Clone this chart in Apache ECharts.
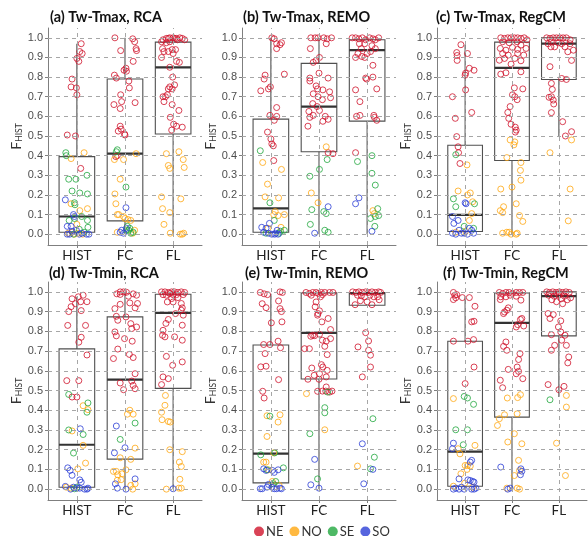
<!DOCTYPE html>
<html>
<head>
<meta charset="utf-8">
<script src="https://cdn.jsdelivr.net/npm/echarts@6/dist/echarts.min.js"></script>
<style>
html, body { margin: 0; padding: 0; background: #fff; }
#chart { width: 588px; height: 536px; }
</style>
</head>
<body>
<div id="chart"></div>
<script>
const categories = ['HIST', 'FC', 'FL'];
const regions = ['NE', 'NO', 'SE', 'SO'];
const regionColors = ['#d0142c', '#ffa812', '#22a83e', '#2c3fd6'];
const titles = ['(a) Tw-Tmax, RCA', '(b) Tw-Tmax, REMO', '(c) Tw-Tmax, RegCM',
                '(d) Tw-Tmin, RCA', '(e) Tw-Tmin, REMO', '(f) Tw-Tmin, RegCM'];
const yTicks = [0, 0.1, 0.2, 0.3, 0.4, 0.5, 0.6, 0.7, 0.8, 0.9, 1.0];

// box stats: [x, lower whisker, Q1, median, Q3, upper whisker]
const boxA = [[1, 0, 0.01, 0.09, 0.395, 0.97], [2, 0, 0.068, 0.41, 0.79, 1.0], [3, 0, 0.51, 0.85, 0.978, 1.0]];
const boxB = [[1, 0, 0.01, 0.132, 0.586, 1.0], [2, 0, 0.42, 0.65, 0.87, 1.0], [3, 0, 0.576, 0.937, 0.99, 1.0]];
const boxC = [[1, 0, 0.014, 0.098, 0.453, 0.965], [2, 0, 0.375, 0.847, 0.978, 1.0], [3, 0.5, 0.788, 0.97, 1.0, 1.0]];
const boxD = [[1, 0, 0.01, 0.225, 0.711, 0.975], [2, 0, 0.152, 0.555, 0.873, 1.0], [3, 0, 0.511, 0.893, 0.988, 1.0]];
const boxE = [[1, 0, 0.032, 0.18, 0.731, 0.99], [2, 0, 0.558, 0.792, 0.995, 1.0], [3, 0.932, 0.932, 0.993, 0.997, 1.0]];
const boxF = [[1, 0, 0.015, 0.19, 0.75, 0.975], [2, 0, 0.365, 0.843, 0.995, 1.0], [3, 0.467, 0.777, 0.978, 1.0, 1.0]];

// jittered points [x, FHIST]
const a_NE = [[1.09,0.97],[1.06,0.93],[1.11,0.92],[1.0,0.895],[1.04,0.88],[0.9,0.79],[0.88,0.75],[0.99,0.745],[1.0,0.71],[0.8,0.505],[0.97,0.5],[1.08,0.335],
  [1.79,1.0],[2.16,0.995],[2.2,0.98],[2.23,0.945],[2.24,0.935],[1.91,0.935],[2.17,0.88],[2.02,0.845],[1.98,0.835],[2.03,0.83],[1.78,0.81],[1.82,0.795],[2.08,0.78],[2.09,0.745],[1.91,0.71],[1.93,0.675],[1.77,0.66],[2.21,0.67],[1.9,0.64],[1.9,0.55],[1.92,0.535],[1.86,0.525],[1.99,0.51],[2.0,0.505],[1.84,0.4],[1.81,0.395],
  [2.76,0.98],[2.79,0.99],[2.86,0.997],[2.9,0.997],[2.93,1.0],[3.0,1.0],[3.03,0.997],[3.07,0.997],[3.14,1.0],[3.19,0.997],[3.24,0.99],[2.86,0.975],[2.93,0.98],[3.09,0.99],[2.78,0.945],[2.81,0.93],[2.9,0.93],[3.0,0.92],[3.05,0.94],[2.98,0.94],[2.76,0.9],[3.07,0.88],[3.13,0.875],[2.93,0.85],[2.99,0.8],[2.93,0.75],[3.03,0.76],[2.98,0.74],[2.9,0.74],[2.79,0.7],[2.84,0.7],[2.88,0.71],[2.81,0.675],[2.98,0.66],[3.12,0.63],[2.94,0.595],[3.01,0.56],[3.07,0.55],[3.19,0.545],[2.97,0.53]];
const a_NO = [[0.88,0.385],[1.15,0.415],[0.88,0.155],[1.06,0.12],[1.22,0.13],[0.82,0.005],[0.95,0.0],[1.02,0.005],[1.12,0.0],[0.9,0.01],[1.0,0.05],
  [1.78,0.38],[1.97,0.38],[2.23,0.41],[1.9,0.28],[1.79,0.205],[1.81,0.155],[1.84,0.1],[1.87,0.1],[1.97,0.09],[2.0,0.08],[2.06,0.075],[2.12,0.07],[1.84,0.01],[2.16,0.005],[2.2,0.02],
  [2.86,0.41],[3.12,0.42],[2.9,0.35],[2.93,0.335],[3.21,0.38],[3.23,0.34],[2.76,0.19],[3.16,0.18],[2.78,0.13],[2.93,0.11],[2.81,0.05],[2.94,0.005],[3.15,0.0],[3.19,0.0],[3.22,0.005]];
const a_SE = [[0.77,0.415],[0.78,0.4],[0.83,0.28],[0.98,0.28],[1.21,0.3],[0.9,0.22],[1.06,0.21],[1.22,0.205],[0.95,0.16],[0.96,0.15],[0.84,0.07],[0.95,0.08],[1.1,0.09],[1.22,0.07],[1.23,0.035],[1.15,0.01],[1.05,0.025],[0.93,0.0],
  [1.84,0.43],[1.82,0.42],[2.02,0.24],[2.03,0.02],[2.08,0.02],[2.12,0.005],[2.17,0.01],[2.1,0.03],[2.05,0.04]];
const a_SO = [[0.76,0.175],[0.8,0.04],[0.88,0.04],[0.95,0.09],[0.85,0.0],[0.99,0.02],[1.1,0.005],[1.2,0.0],[0.8,0.0],[1.05,0.0],[1.25,0.0],[0.9,0.015],[0.93,0.1],
  [2.02,0.135],[1.9,0.01],[1.93,0.02],[1.97,0.005],[2.03,0.03]];

const b_NE = [[1.02,1.0],[1.07,0.995],[1.12,0.97],[1.19,0.965],[1.12,0.945],[1.22,0.975],[0.88,0.81],[0.86,0.79],[0.79,0.73],[0.95,0.74],[0.99,0.75],[1.28,0.815],[1.12,0.645],[0.98,0.605],[1.12,0.6],[1.07,0.58],[0.93,0.52],[1.0,0.485],[1.02,0.46],[1.05,0.45],[1.06,0.375],
  [1.83,1.0],[1.92,1.0],[1.98,1.0],[2.1,1.0],[2.17,0.995],[2.26,1.0],[2.15,0.97],[1.82,0.945],[2.01,0.9],[1.94,0.885],[1.88,0.875],[2.0,0.82],[1.81,0.795],[1.81,0.78],[2.19,0.795],[1.94,0.755],[1.97,0.74],[2.08,0.735],[2.22,0.725],[1.88,0.715],[1.98,0.7],[2.24,0.695],[2.07,0.685],[1.87,0.665],[1.96,0.65],[2.01,0.63],[1.79,0.625],[1.88,0.605],[1.81,0.595],[2.13,0.6],[2.19,0.585],[2.08,0.575],[1.77,0.55],[2.19,0.415],[2.29,0.41],
  [2.69,1.0],[2.76,1.0],[2.83,0.995],[2.9,1.0],[2.97,0.99],[3.05,1.0],[3.12,0.995],[3.17,0.99],[3.24,1.0],[2.84,0.97],[2.95,0.97],[2.88,0.945],[3.1,0.96],[3.17,0.945],[2.81,0.92],[2.89,0.905],[3.0,0.92],[3.07,0.93],[2.76,0.9],[2.95,0.9],[3.12,0.86],[2.97,0.795],[2.99,0.79],[3.12,0.8],[2.76,0.735],[3.2,0.74],[2.85,0.675],[2.78,0.6],[2.85,0.605],[3.14,0.605],[3.15,0.595],[3.2,0.58],[2.76,0.415]];
const b_NO = [[0.83,0.365],[0.93,0.255],[1.22,0.33],[0.88,0.19],[1.16,0.185],[1.06,0.1],[1.15,0.095],[1.09,0.115],[1.28,0.1],[0.94,0.03],[1.21,0.035],
  [2.15,0.445],[1.84,0.21],[1.98,0.16],
  [3.12,0.12],[3.15,0.105]];
const b_SE = [[0.78,0.425],[0.98,0.16],[1.07,0.07],[0.9,0.005],[1.2,0.015],[1.17,0.005],[1.28,0.02],
  [1.81,0.295],[2.01,0.33],[2.17,0.38],[1.85,0.125],[2.1,0.115],[2.15,0.105],[1.82,0.05],[2.12,0.02],[2.19,0.01],
  [2.8,0.37],[3.1,0.4],[3.1,0.31],[3.17,0.25],[3.07,0.08],[3.17,0.09],[3.22,0.13],[3.16,0.04],[3.24,0.095]];
const b_SO = [[0.81,0.035],[0.97,0.055],[0.95,0.005],[1.02,0.0],[1.08,0.0],[1.13,0.02],[1.15,0.0],[1.1,0.005],[0.9,0.03],[0.85,0.01],
  [2.19,0.14],[1.91,0.005],
  [2.83,0.185],[2.76,0.155],[3.1,0.015]];

const c_NE = [[0.91,0.965],[0.82,0.925],[0.83,0.91],[0.83,0.885],[1.05,0.92],[1.01,0.82],[1.0,0.81],[1.09,0.845],[1.19,0.835],[1.01,0.735],[0.73,0.7],[1.14,0.62],[0.79,0.59],[0.82,0.497],[0.85,0.445],[0.86,0.415],[0.89,0.36],
  [1.76,1.0],[1.84,0.997],[1.91,1.0],[1.98,1.0],[2.05,1.0],[2.12,1.0],[2.19,0.997],[2.26,1.0],[2.32,0.99],[1.8,0.98],[1.94,0.975],[2.11,0.98],[2.19,0.963],[1.75,0.946],[1.87,0.937],[2.01,0.951],[2.12,0.941],[2.3,0.946],[1.8,0.92],[1.92,0.912],[2.12,0.92],[2.25,0.912],[1.73,0.886],[1.84,0.895],[2.06,0.895],[2.19,0.883],[1.98,0.866],[2.19,0.827],[1.87,0.822],[1.76,0.815],
  [2.05,0.745],[2.23,0.74],[2.01,0.71],[2.06,0.7],[2.11,0.685],[1.96,0.65],[1.91,0.62],[1.93,0.59],[1.98,0.56],[2.07,0.545],[2.09,0.53],[2.07,0.52],
  [2.74,1.0],[2.81,0.997],[2.88,1.0],[2.95,1.0],[3.02,1.0],[3.09,1.0],[3.16,1.0],[3.24,0.99],[2.77,0.97],[2.84,0.98],[2.99,0.975],[3.06,0.97],[3.24,0.97],[2.83,0.954],[2.91,0.954],[3.13,0.954],[3.31,0.937],[3.19,0.929],[3.27,0.885],[2.81,0.853],[3.06,0.793],[3.16,0.788],[2.84,0.768],[2.86,0.737],[2.79,0.697],[2.84,0.7],[2.88,0.683],[2.89,0.663],[2.84,0.619],[3.08,0.573],[3.14,0.5],[3.27,0.522]];
const c_NO = [[1.04,0.353],[0.85,0.22],[1.05,0.2],[1.11,0.21],[1.16,0.165],[1.14,0.105],[1.09,0.07],[0.8,0.01],[1.01,0.015],
  [1.96,0.48],[2.06,0.47],[2.04,0.455],[1.89,0.39],[2.19,0.365],[2.18,0.325],[2.19,0.275],[1.76,0.23],[2.0,0.24],[1.82,0.14],[1.75,0.12],[1.8,0.11],[2.09,0.155],[2.16,0.095],[2.23,0.065],[1.8,0.005],[1.89,0.01],[1.94,0.01],[1.98,0.0],[2.09,0.0],[2.11,0.005],
  [2.81,0.415],[3.27,0.48],[3.24,0.23],[3.2,0.068]];
const c_SE = [[0.8,0.405],[0.75,0.18],[0.8,0.14],[1.2,0.155],[0.98,0.04],[1.18,0.03]];
const c_SO = [[0.73,0.09],[0.85,0.07],[0.76,0.055],[1.0,0.16],[1.02,0.155],[0.87,0.02],[0.73,0.005],[0.8,0.0],[0.92,0.005],[1.09,0.03],[1.14,0.02],[1.18,0.005],[1.05,0.0],[0.98,0.005]];

const d_NE = [[1.13,0.983],[1.03,0.975],[0.9,0.965],[0.97,0.94],[1.08,0.95],[1.21,0.95],[0.88,0.925],[0.83,0.9],[1.09,0.905],[0.81,0.83],[1.18,0.83],[1.09,0.77],[1.04,0.745],[1.21,0.68],[0.79,0.55],[1.04,0.55],[0.9,0.467],[1.0,0.467],
  [1.83,0.99],[1.9,1.0],[1.97,1.0],[2.03,0.998],[1.9,0.987],[2.07,0.978],[2.17,0.99],[2.24,0.983],[1.79,0.915],[1.9,0.937],[2.1,0.944],[2.21,0.919],[2.26,0.941],[1.82,0.876],[1.85,0.856],[2.02,0.873],[2.12,0.839],[2.24,0.822],[2.14,0.814],[1.79,0.797],[1.82,0.777],[1.99,0.763],[2.15,0.75],[1.85,0.71],[2.09,0.683],[2.17,0.667],[1.76,0.662],[2.21,0.585],[2.14,0.548],[2.17,0.526],[2.21,0.509],[1.97,0.504],[1.9,0.538],
  [2.76,1.0],[2.83,1.0],[2.9,0.997],[2.97,1.0],[3.03,1.0],[3.1,0.997],[3.17,1.0],[3.24,0.997],[2.79,0.986],[2.86,0.983],[2.93,0.992],[3.0,0.986],[3.07,0.986],[3.21,0.986],[2.97,0.966],[3.1,0.971],[2.88,0.949],[3.0,0.949],[3.17,0.941],[3.19,0.919],[3.17,0.907],[3.05,0.89],[3.21,0.882],[2.9,0.86],[2.85,0.84],[3.19,0.831],[2.79,0.805],[2.78,0.78],[2.83,0.772],[3.03,0.772],[3.19,0.755],[2.86,0.673],[2.99,0.628],[3.19,0.645],[2.79,0.569],[2.9,0.56],[2.76,0.53]];
const d_NO = [[1.13,0.423],[1.23,0.403],[0.9,0.295],[1.13,0.222],[1.18,0.132],[1.02,0.103],[0.78,0.01],[0.88,0.005],
  [2.1,0.4],[2.05,0.38],[2.17,0.38],[2.21,0.208],[1.9,0.159],[2.12,0.151],[1.76,0.09],[1.82,0.09],[1.85,0.073],[1.94,0.078],[1.84,0.045],[1.92,0.048],[2.02,0.098],[2.21,0.027],[2.12,0.019],[2.16,0.0],
  [2.84,0.475],[2.83,0.425],[2.76,0.39],[2.77,0.352],[2.9,0.343],[2.94,0.34],[2.93,0.2],[3.19,0.19],[3.13,0.137],[3.17,0.115],[3.14,0.05],[3.12,0.005],[3.17,0.005],[2.86,0.0]];
const d_SE = [[0.83,0.48],[1.23,0.437],[1.21,0.39],[0.83,0.3],[1.13,0.277],[0.93,0.183],[1.0,0.01],[0.95,0.002],
  [2.21,0.335],[1.9,0.252]];
const d_SO = [[1.07,0.306],[0.81,0.108],[0.86,0.095],[0.9,0.07],[1.06,0.047],[1.09,0.035],[0.76,0.014],[0.87,0.0],[1.06,0.005],[1.16,0.0],[1.21,0.0],[1.23,0.005],[0.93,0.01],[1.0,0.005],
  [1.82,0.32],[1.78,0.184],[2.0,0.21],[1.8,0.027],[1.84,0.005],[2.02,0.0],[2.21,0.052],
  [3.0,0.002]];

const e_NE = [[0.78,0.997],[0.86,0.99],[0.93,0.986],[1.19,1.0],[1.24,0.997],[0.82,0.94],[0.9,0.92],[1.16,0.954],[1.19,0.915],[1.22,0.9],[1.01,0.843],[1.23,0.848],[0.85,0.733],[0.98,0.733],[1.15,0.75],[1.2,0.717],[0.88,0.687],[0.79,0.62],[0.9,0.623],[1.16,0.555],[0.83,0.496],[0.86,0.462],
  [1.73,0.997],[1.8,0.992],[1.87,0.997],[1.94,0.997],[1.99,0.992],[2.05,0.997],[2.12,0.997],[2.22,0.997],[2.29,0.997],[1.84,0.983],[2.07,0.986],[2.03,0.975],[1.94,0.949],[1.92,0.924],[2.01,0.904],[1.98,0.89],[1.97,0.882],[2.19,0.865],[2.06,0.848],[2.24,0.809],[1.83,0.775],[1.87,0.78],[2.01,0.785],[1.91,0.778],[2.07,0.755],[2.15,0.75],[2.24,0.763],[2.12,0.724],[1.7,0.712],[1.8,0.712],[2.17,0.682],[1.85,0.614],[2.08,0.619],[1.9,0.577],[2.05,0.631],[2.17,0.602],[2.01,0.585],[2.15,0.569],[2.0,0.557],[1.77,0.557],[2.15,0.518],[2.14,0.497],[1.97,0.496],[2.07,0.497],[2.27,0.497],[2.22,0.492],
  [2.7,1.0],[2.77,0.997],[2.83,1.0],[2.9,0.997],[2.97,1.0],[3.03,0.997],[3.1,1.0],[3.17,0.997],[3.24,1.0],[3.28,0.997],[2.8,0.983],[2.88,0.98],[2.95,0.975],[3.06,0.983],[3.14,0.975],[3.22,0.975],[2.86,0.955],[3.0,0.95],[3.1,0.935],[3.25,0.96],[2.75,0.935],
  [2.97,0.793],[2.81,0.721],[3.03,0.751],[3.03,0.704],[3.07,0.679],[3.07,0.619],[2.9,0.569]];
const e_NO = [[0.92,0.372],[1.19,0.377],[1.15,0.34],[0.92,0.267],[1.06,0.184],[0.85,0.137],[0.9,0.137],[0.95,0.098],[1.03,0.039],[1.17,0.019],
  [1.74,0.484],[2.12,0.301],
  [2.8,0.117]];
const e_SE = [[0.98,0.37],[0.79,0.174],[1.08,0.184],[0.92,0.098],[1.26,0.108],[1.1,0.039],[1.05,0.027],
  [2.12,0.413],[2.12,0.387],[2.18,0.492],[1.81,0.281],[1.97,0.052],
  [3.12,0.357],[3.15,0.162],[3.07,0.103]];
const e_SO = [[0.85,0.103],[0.9,0.095],[1.03,0.095],[1.07,0.085],[1.15,0.098],[0.78,0.002],[0.82,0.002],[0.92,0.01],[0.95,0.024],[1.02,0.01],[1.07,0.002],[1.12,0.002],[1.19,0.005],[1.22,0.002],
  [1.91,0.151],[1.83,0.022],[2.0,0.005],
  [2.9,0.23],[2.93,0.027],[3.12,0.1]];

const f_NE = [[0.75,0.997],[0.78,0.983],[0.82,0.986],[0.75,0.961],[0.8,0.97],[0.94,0.971],[1.09,0.971],[1.21,0.927],[1.14,0.848],[1.19,0.851],[0.75,0.75],[1.06,0.75],[1.18,0.758],[1.19,0.619],[1.0,0.535],
  [1.73,0.997],[1.8,0.992],[1.87,0.997],[1.94,0.997],[2.01,0.992],[2.09,0.997],[2.16,0.997],[2.23,0.997],[1.76,0.975],[1.87,0.975],[1.96,0.983],[2.09,0.978],[1.75,0.961],[2.19,0.958],[1.84,0.898],[1.82,0.89],[1.89,0.907],[1.92,0.919],[2.18,0.86],[2.21,0.865],[2.12,0.834],[2.25,0.827],[2.09,0.822],[1.87,0.746],[1.82,0.724],[1.89,0.704],[1.92,0.607],[1.75,0.552],[2.11,0.619],[2.14,0.657],[2.17,0.687],[2.14,0.597],[2.09,0.585],[1.8,0.514],[2.23,0.56],
  [2.74,1.0],[2.8,0.997],[2.87,1.0],[2.94,0.997],[3.01,1.0],[3.08,0.997],[3.15,1.0],[3.22,0.997],[2.78,0.983],[2.9,0.978],[3.0,0.983],[3.12,0.978],[3.25,0.97],[2.85,0.96],[2.95,0.95],[3.05,0.965],[3.18,0.96],[3.08,0.94],
  [2.77,0.89],[2.88,0.885],[2.81,0.865],[3.04,0.853],[2.99,0.822],[2.84,0.783],[3.04,0.797],[3.13,0.78],[3.06,0.755],[2.91,0.729],[2.84,0.704],[3.16,0.729],[3.21,0.67],[3.19,0.64],[2.77,0.53],[3.0,0.504],[3.11,0.521]];
const f_NO = [[0.75,0.459],[1.21,0.222],[0.85,0.205],[0.89,0.179],[1.0,0.12],[1.05,0.12],[1.11,0.117],[1.04,0.1],[0.91,0.078],[0.75,0.015],[0.99,0.03],[1.16,0.01],
  [1.69,0.323],[1.73,0.357],[1.84,0.377],[1.9,0.462],[2.12,0.464],[2.18,0.479],[2.11,0.382],[2.05,0.281],[1.91,0.239],[2.21,0.23],[2.14,0.146],[2.05,0.069],[2.16,0.095],[2.16,0.0],[1.89,0.005],[2.11,0.005],
  [3.16,0.475],[3.16,0.416],[2.95,0.233],[3.14,0.069]];
const f_SE = [[0.98,0.47],[1.05,0.462],[1.18,0.43],[0.8,0.301],[1.05,0.301],[0.96,0.225],
  [2.81,0.453]];
const f_SO = [[0.75,0.233],[0.73,0.205],[0.87,0.052],[1.11,0.137],[1.14,0.146],[1.06,0.047],[1.11,0.044],[1.16,0.039],[1.19,0.036],[0.75,0.0],[0.8,0.005],[0.87,0.0],[0.92,0.01],[0.98,0.0],[1.14,0.0],[1.19,0.0],[1.23,0.005],
  [1.76,0.112],[1.91,0.0],[1.96,0.005],[2.19,0.103],[2.21,0.091],[2.18,0.073]];

const panels = [
  { box: boxA, pts: [a_NE, a_NO, a_SE, a_SO] },
  { box: boxB, pts: [b_NE, b_NO, b_SE, b_SO] },
  { box: boxC, pts: [c_NE, c_NO, c_SE, c_SO] },
  { box: boxD, pts: [d_NE, d_NO, d_SE, d_SO] },
  { box: boxE, pts: [e_NE, e_NO, e_SE, e_SO] },
  { box: boxF, pts: [f_NE, f_NO, f_SE, f_SO] }
];

// layout of the 2x3 panels (pixels)
const colLeft = [48, 242, 437];
const colWidth = [154, 154, 150];
const rowTop = [28, 282];
const rowHeight = [217, 218];
const titleLeft = [50, 243, 436, 49, 245, 443];
const titleTop = [10, 266];

const BOX_W = 0.74;
const axisGray = '#7f7f7f';

function renderBox(params, api) {
  const x = api.value(0);
  const lo = api.coord([x, api.value(1)]);
  const q1 = api.coord([x, api.value(2)]);
  const md = api.coord([x, api.value(3)]);
  const q3 = api.coord([x, api.value(4)]);
  const hi = api.coord([x, api.value(5)]);
  const half = api.size([BOX_W, 0])[0] / 2;
  const stroke = '#505050';
  return {
    type: 'group',
    children: [
      { type: 'line', shape: { x1: lo[0], y1: lo[1], x2: q1[0], y2: q1[1] }, style: { stroke: stroke, lineWidth: 1.1 } },
      { type: 'line', shape: { x1: q3[0], y1: q3[1], x2: hi[0], y2: hi[1] }, style: { stroke: stroke, lineWidth: 1.1 } },
      { type: 'rect', shape: { x: q3[0] - half, y: q3[1], width: half * 2, height: q1[1] - q3[1] },
        style: { fill: 'none', stroke: stroke, lineWidth: 1.1 } },
      { type: 'line', shape: { x1: md[0] - half, y1: md[1], x2: md[0] + half, y2: md[1] },
        style: { stroke: '#333', lineWidth: 2.2 } }
    ]
  };
}

const grids = [], xAxes = [], yAxes = [], series = [], titleList = [];

// filled-circle entries for the legend (no data)
regions.forEach((r, k) => {
  series.push({
    type: 'scatter', name: r, xAxisIndex: 0, yAxisIndex: 0, data: [],
    symbol: 'circle', itemStyle: { color: regionColors[k] }
  });
});

panels.forEach((p, i) => {
  const row = Math.floor(i / 3), col = i % 3;
  grids.push({ left: colLeft[col], top: rowTop[row], width: colWidth[col], height: rowHeight[row] });
  titleList.push({
    text: titles[i], left: titleLeft[i], top: titleTop[row], padding: 0,
    textStyle: { fontFamily: 'Lato', fontWeight: 'bold', fontSize: 14.5, color: '#111' }
  });
  xAxes.push({
    type: 'value', gridIndex: i, min: 0.4, max: 3.6,
    axisLine: { show: true, onZero: false, lineStyle: { color: axisGray, width: 1 } },
    axisTick: { show: true, length: 3, customValues: [1, 2, 3], lineStyle: { color: axisGray } },
    axisLabel: {
      customValues: [1, 2, 3], margin: 4,
      formatter: v => categories[Math.round(v) - 1] || '',
      fontFamily: 'Lato', fontSize: 13.5, color: '#222'
    },
    splitLine: { show: false }
  });
  yAxes.push({
    type: 'value', gridIndex: i, min: -0.055, max: 1.05,
    axisLine: { show: true, onZero: false, lineStyle: { color: axisGray, width: 1 } },
    axisTick: { show: true, length: 3, customValues: yTicks, lineStyle: { color: axisGray } },
    axisLabel: {
      customValues: yTicks, margin: 5,
      formatter: v => v.toFixed(1),
      fontFamily: 'Liberation Sans', fontSize: 11, color: '#4d4d4d'
    },
    splitLine: { show: false },
    name: '{f|F}{s|HIST}', nameLocation: 'middle', nameGap: 22,
    nameTextStyle: {
      rich: {
        f: { fontFamily: 'Lato', fontSize: 14, color: '#333', lineHeight: 14, verticalAlign: 'top' },
        s: { fontFamily: 'Lato', fontSize: 8.5, color: '#333', lineHeight: 9, verticalAlign: 'bottom', padding: [8, 0, 0, 0] }
      }
    }
  });

  // dashed reference grid
  series.push({
    type: 'line', xAxisIndex: i, yAxisIndex: i, data: [], silent: true, z: 0,
    markLine: {
      silent: true, symbol: 'none', animation: false, label: { show: false },
      lineStyle: { color: '#a6a6a6', type: [4, 4], width: 1 },
      data: yTicks.map(v => ({ yAxis: v })).concat([1, 2, 3].map(v => ({ xAxis: v })))
    }
  });

  series.push({
    type: 'custom', xAxisIndex: i, yAxisIndex: i, z: 2, silent: true,
    renderItem: renderBox,
    encode: { x: 0, y: [1, 2, 3, 4, 5] },
    data: p.box
  });

  p.pts.forEach((pts, k) => {
    series.push({
      type: 'scatter', name: regions[k], xAxisIndex: i, yAxisIndex: i, z: 3,
      symbol: 'circle', symbolSize: 6,
      itemStyle: { color: 'rgba(0,0,0,0)', borderColor: regionColors[k], borderWidth: 1 },
      data: pts
    });
  });
});

const chart = echarts.init(document.getElementById('chart'));
chart.setOption({
  backgroundColor: '#fff',
  animation: false,
  title: titleList,
  grid: grids,
  xAxis: xAxes,
  yAxis: yAxes,
  legend: {
    left: 249, top: 520, itemWidth: 10, itemHeight: 10, itemGap: 6, selectedMode: false,
    data: regions.map((r, k) => ({ name: r, icon: 'circle', itemStyle: { color: regionColors[k], borderWidth: 0 } })),
    textStyle: { fontFamily: 'Lato', fontSize: 13, color: '#333', padding: [0, 0, 0, -3] }
  },
  series: series
});
</script>
</body>
</html>
